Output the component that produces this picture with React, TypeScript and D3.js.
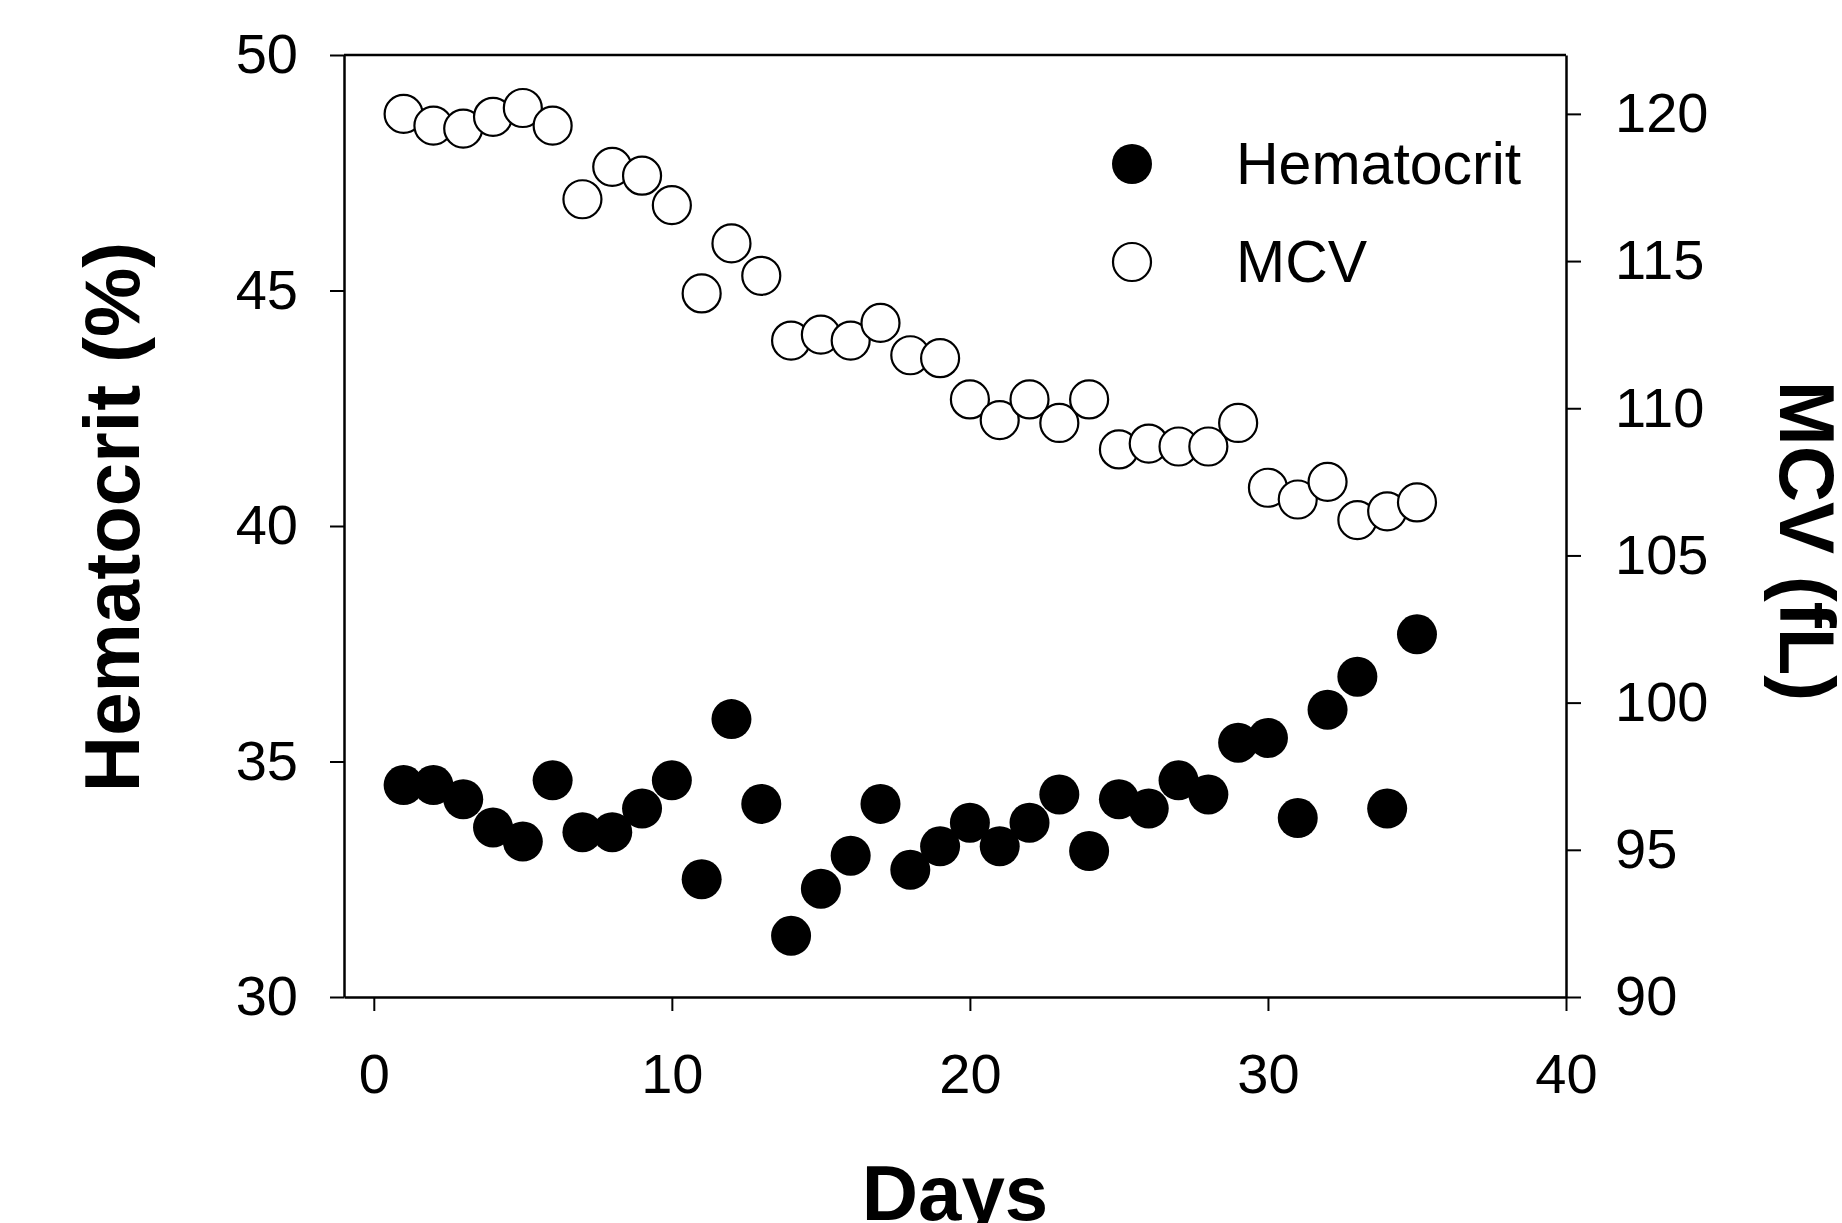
import React, { useEffect, useRef } from 'react';
import * as d3 from 'd3';

const width = 1842;
const height = 1223;

const margin = {
  top: 55,
  right: 276,
  bottom: 226,
  left: 344
};

// data
const days = [1, 2, 3, 4, 5, 6, 7, 8, 9, 10, 11, 12, 13, 14, 15, 16, 17, 18, 19, 20, 21, 22, 23, 24, 25, 26, 27, 28, 29, 30, 31, 32, 33, 34, 35];
const hematocrit = [34.5, 34.5, 34.2, 33.6, 33.3, 34.6, 33.5, 33.5, 34.0, 34.6, 32.5, 35.9, 34.1, 31.3, 32.3, 33.0, 34.1, 32.7, 33.2, 33.7, 33.2, 33.7, 34.3, 33.1, 34.2, 34.0, 34.6, 34.3, 35.4, 35.5, 33.8, 36.1, 36.8, 34.0, 37.7];
const mcv = [120.0, 119.6, 119.5, 119.9, 120.2, 119.6, 117.1, 118.2, 117.9, 116.9, 113.9, 115.6, 114.5, 112.3, 112.5, 112.3, 112.9, 111.8, 111.7, 110.3, 109.6, 110.3, 109.5, 110.3, 108.6, 108.8, 108.7, 108.7, 109.5, 107.3, 106.9, 107.5, 106.2, 106.5, 106.8];

const xTicks = [0, 10, 20, 30, 40];
const hctTicks = [30, 35, 40, 45, 50];
const mcvTicks = [90, 95, 100, 105, 110, 115, 120];
const legendItems = ['Hematocrit', 'MCV'];

const font = '"Liberation Sans", Arial, sans-serif';

const App = () => {
  const xAxisRef = useRef(null);
  const yAxisRef = useRef(null);
  const y2AxisRef = useRef(null);

  const xScale = d3.scaleLinear()
    .domain([-1, 40])
    .range([margin.left, width - margin.right]);

  const yScale = d3.scaleLinear()
    .domain([30, 50])
    .range([height - margin.bottom, margin.top]);

  const y2Scale = d3.scaleLinear()
    .domain([90, 122])
    .range([height - margin.bottom, margin.top]);

  useEffect(() => {
    const styleAxis = (g, size) => {
      g.attr('font-family', font).attr('font-size', size);
      g.selectAll('path').attr('stroke', '#000').attr('stroke-width', 2.5);
      g.selectAll('line').attr('stroke', '#000').attr('stroke-width', 2);
      g.selectAll('text').attr('fill', '#000');
    };

    const x = d3.axisBottom(xScale).tickValues(xTicks).tickSize(14).tickSizeOuter(0).tickPadding(42);
    d3.select(xAxisRef.current).call(x).call(g => styleAxis(g, 56));

    const y = d3.axisLeft(yScale).tickValues(hctTicks).tickSize(14).tickSizeOuter(0).tickPadding(32);
    d3.select(yAxisRef.current).call(y).call(g => styleAxis(g, 56));

    const y2 = d3.axisRight(y2Scale).tickValues(mcvTicks).tickSize(15).tickSizeOuter(0).tickPadding(34);
    d3.select(y2AxisRef.current).call(y2).call(g => styleAxis(g, 56));
  });

  const plotBottom = height - margin.bottom;
  const plotRight = width - margin.right;

  const hctDots = days.map((d, i) => (
    <circle key={'h' + d} cx={xScale(d)} cy={yScale(hematocrit[i])} r={20} fill="#000" />
  ));

  const mcvDots = days.map((d, i) => (
    <circle key={'m' + d} cx={xScale(d)} cy={y2Scale(mcv[i])} r={19} fill="#fff" stroke="#000" strokeWidth={2.2} />
  ));

  return (
    <div style={{ position: 'absolute', left: 0, top: 0, background: '#fff' }}>
      <svg width={width} height={height} style={{ display: 'block', background: '#fff' }}>
        {/* top frame line */}
        <line x1={margin.left} x2={plotRight} y1={margin.top} y2={margin.top} stroke="#000" strokeWidth={2.5} />

        {mcvDots}
        {hctDots}

        <g ref={xAxisRef} transform={`translate(0, ${plotBottom})`} />
        <g ref={yAxisRef} transform={`translate(${margin.left}, 0)`} />
        <g ref={y2AxisRef} transform={`translate(${plotRight}, 0)`} />

        {/* legend */}
        <circle cx={1132} cy={164} r={20} fill="#000" />
        <text x={1236} y={184} fontFamily={font} fontSize={59}>{legendItems[0]}</text>
        <circle cx={1132} cy={262} r={19} fill="#fff" stroke="#000" strokeWidth={2.2} />
        <text x={1236} y={282} fontFamily={font} fontSize={59}>{legendItems[1]}</text>

        {/* axis titles */}
        <text x={955} y={1220} textAnchor="middle" fontFamily={font} fontSize={78} fontWeight="bold">Days</text>
        <text transform="translate(139, 517) rotate(-90)" textAnchor="middle" fontFamily={font} fontSize={78} fontWeight="bold">Hematocrit (%)</text>
        <text transform="translate(1780, 541) rotate(90)" textAnchor="middle" fontFamily={font} fontSize={78} fontWeight="bold">MCV (fL)</text>
      </svg>
    </div>
  );
};

export default App;
